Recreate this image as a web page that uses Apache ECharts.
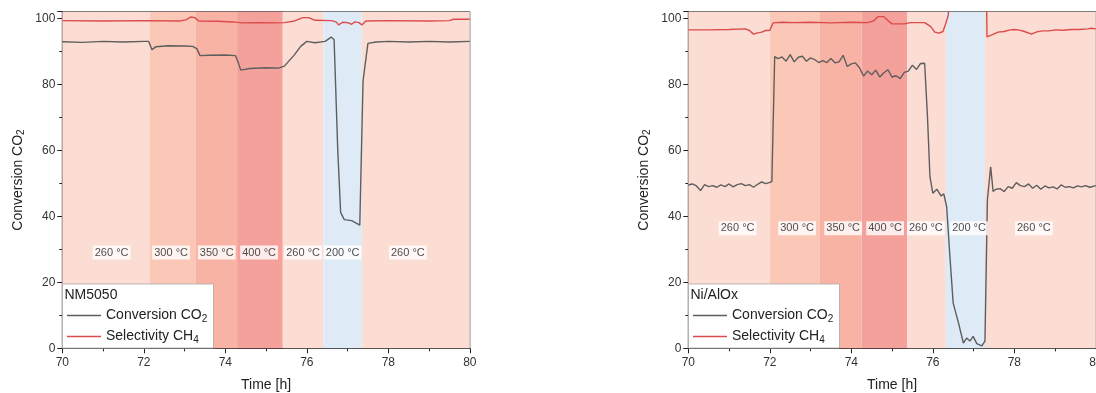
<!DOCTYPE html>
<html>
<head>
<meta charset="utf-8">
<script src="https://cdn.jsdelivr.net/npm/echarts@6/dist/echarts.min.js"></script>
<style>
  html, body { margin: 0; padding: 0; background: #fff; }
  #chart { width: 1096px; height: 393px; }
</style>
</head>
<body>
<div id="chart"></div>
<script>
// temperature program bands (h) and labels
const bandEdgesL = [70, 72.15, 73.28, 74.29, 75.41, 76.41, 77.35, 80];
const bandEdgesR = [70, 72.0, 73.23, 74.25, 75.37, 76.32, 77.28, 80];
const bandTemps = [260, 300, 350, 400, 260, 200, 260];
const labelTimeL = [71.21, 72.67, 73.79, 74.83, 75.91, 76.88, 78.48];
const labelTimeR = [71.21, 72.67, 73.80, 74.83, 75.83, 76.89, 78.48];
const labelLevelL = 29;
const labelLevelR = 36.4;

// NM5050
const timeConvL = [70.0, 70.5, 71.0, 71.5, 72.0, 72.12, 72.2, 72.3, 72.6, 73.0, 73.2, 73.3, 73.38, 73.6, 74.0, 74.25, 74.32, 74.38, 74.6, 75.0, 75.3, 75.45, 75.7, 75.85, 76.0, 76.2, 76.45, 76.6, 76.67, 76.76, 76.83, 76.92, 77.1, 77.2, 77.3, 77.34, 77.38, 77.5, 77.7, 78.0, 78.5, 79.0, 79.5, 80.0];
const convL = [92.9, 92.7, 93.0, 92.8, 93.0, 93.0, 90.5, 91.4, 91.7, 91.6, 91.5, 90.8, 88.7, 88.8, 88.9, 88.7, 86.5, 84.3, 84.8, 85.0, 84.9, 85.5, 89.0, 91.5, 93.0, 92.6, 93.0, 94.3, 93.5, 60.0, 41.2, 39.0, 38.7, 38.0, 37.3, 37.5, 81.0, 92.4, 92.8, 93.0, 92.8, 93.0, 92.8, 93.0];
const timeSelL = [70.0, 71.0, 72.0, 72.9, 73.05, 73.15, 73.25, 73.35, 73.8, 74.2, 74.4, 74.8, 75.2, 75.45, 75.7, 75.9, 76.05, 76.2, 76.6, 76.72, 76.78, 76.88, 77.0, 77.1, 77.18, 77.28, 77.35, 77.45, 78.0, 79.0, 79.5, 79.6, 80.0];
const selL = [99.3, 99.2, 99.3, 99.2, 99.6, 100.4, 100.2, 99.2, 99.1, 98.9, 98.6, 98.7, 98.6, 98.7, 99.2, 100.2, 100.2, 99.4, 99.3, 98.9, 98.0, 98.8, 98.7, 98.2, 98.9, 98.7, 98.0, 99.2, 99.3, 99.2, 99.3, 99.7, 99.7];

// Ni/AlOx
const timeConvR = [70.0, 70.1, 70.2, 70.3, 70.4, 70.5, 70.6, 70.7, 70.8, 70.9, 71.0, 71.1, 71.2, 71.3, 71.4, 71.5, 71.6, 71.7, 71.8, 71.9, 72.0, 72.05, 72.12, 72.2, 72.3, 72.4, 72.5, 72.6, 72.7, 72.8, 72.9, 73.0, 73.1, 73.2, 73.3, 73.4, 73.5, 73.6, 73.7, 73.8, 73.9, 74.0, 74.1, 74.2, 74.3, 74.4, 74.5, 74.6, 74.7, 74.8, 74.9, 75.0, 75.1, 75.2, 75.3, 75.4, 75.5, 75.6, 75.7, 75.8, 75.87, 75.93, 76.0, 76.1, 76.2, 76.27, 76.34, 76.42, 76.5, 76.63, 76.75, 76.83, 76.91, 76.99, 77.08, 77.2, 77.28, 77.34, 77.38, 77.42, 77.48, 77.55, 77.65, 77.75, 77.85, 77.95, 78.05, 78.15, 78.25, 78.35, 78.45, 78.55, 78.65, 78.75, 78.85, 78.95, 79.05, 79.15, 79.25, 79.35, 79.45, 79.55, 79.65, 79.75, 79.85, 80.0];
const convR = [49.5, 49.8, 49.2, 47.8, 49.6, 49.0, 49.3, 48.8, 49.5, 49.0, 49.8, 48.9, 49.6, 49.9, 49.3, 49.6, 48.8, 49.7, 50.4, 49.9, 50.3, 50.5, 88.4, 87.8, 88.3, 87.0, 89.0, 86.8, 88.2, 88.5, 87.0, 88.0, 87.5, 86.6, 87.2, 86.6, 87.8, 86.5, 86.8, 88.8, 85.4, 86.2, 86.5, 85.0, 82.5, 84.0, 82.9, 84.3, 82.2, 83.5, 84.4, 82.2, 82.6, 81.7, 83.6, 84.0, 85.8, 84.5, 86.3, 86.4, 70.0, 52.0, 47.0, 48.2, 46.2, 46.8, 42.9, 27.8, 13.7, 7.7, 1.6, 3.1, 2.2, 3.6, 1.4, 0.7, 2.2, 45.0, 50.0, 55.0, 47.5, 48.2, 48.4, 47.5, 49.0, 48.5, 50.2, 49.3, 49.0, 49.8, 48.5, 49.4, 48.2, 49.2, 48.6, 48.9, 48.3, 49.5, 48.8, 49.0, 48.6, 49.2, 48.9, 49.3, 48.8, 49.3];
const timeSelR = [70.0, 70.5, 71.0, 71.4, 71.5, 71.6, 71.7, 71.8, 71.9, 72.0, 72.08, 72.3, 72.6, 73.0, 73.5, 74.0, 74.4, 74.55, 74.65, 74.8, 74.9, 75.0, 75.3, 75.45, 75.8, 75.95, 76.05, 76.15, 76.25, 76.32, 76.38, 76.45, 77.31, 77.33, 77.45, 77.6, 77.75, 77.9, 78.0, 78.1, 78.25, 78.42, 78.55, 78.7, 78.85, 79.0, 79.2, 79.4, 79.6, 79.8, 79.9, 80.0];
const selR = [96.5, 96.5, 96.6, 96.8, 96.3, 95.2, 95.6, 95.8, 96.3, 96.4, 98.6, 98.8, 98.7, 98.8, 98.6, 98.8, 98.7, 99.2, 100.5, 100.5, 99.3, 98.3, 98.3, 98.7, 98.7, 97.5, 95.8, 95.5, 96.0, 98.5, 101.0, 115.0, 115.0, 94.4, 95.0, 95.8, 96.0, 96.5, 96.6, 96.5, 96.0, 95.2, 95.9, 96.2, 96.2, 96.5, 96.4, 96.6, 96.6, 96.8, 97.0, 96.8];

const bandColors = { 260: '#fcddd3', 300: '#fbc7b7', 350: '#f9b3a5', 400: '#f4a19b', 200: '#deebf6' };
const grayLine = '#5e5e5e';
const redLine = '#dc4b4b';
const FONT = 'Liberation Sans, Arial, sans-serif';

function pairs(t, v) {
  return t.map((x, i) => [x, v[i]]);
}

function bands(edges) {
  return bandTemps.map((temp, i) => [
    { xAxis: edges[i], itemStyle: { color: bandColors[temp] } },
    { xAxis: edges[i + 1] }
  ]);
}

function makeAxes(idx) {
  return {
    x: {
      type: 'value', gridIndex: idx, min: 70, max: 80, interval: 2,
      name: 'Time [h]', nameLocation: 'middle', nameGap: 30,
      nameTextStyle: { fontSize: 14, color: '#222', fontFamily: FONT },
      axisLine: { lineStyle: { color: '#222', width: 1 } },
      axisTick: { inside: false, length: 5, lineStyle: { color: '#222' } },
      minorTick: { show: true, splitNumber: 2, length: 3, lineStyle: { color: '#222' } },
      axisLabel: { fontSize: 12, color: '#333', margin: 8, fontFamily: FONT },
      splitLine: { show: false }
    },
    y: {
      type: 'value', gridIndex: idx, min: 0, max: 102, interval: 20,
      name: 'Conversion CO{s|2}', nameLocation: 'middle', nameGap: 36, nameRotate: 90,
      nameTextStyle: {
        fontSize: 14, color: '#222', fontFamily: FONT, lineHeight: 17,
        rich: { s: { fontSize: 10, lineHeight: 10, verticalAlign: 'bottom', color: '#222', fontFamily: FONT } }
      },
      axisLine: { show: true, lineStyle: { color: '#222', width: 1 } },
      axisTick: { inside: false, length: 5, lineStyle: { color: '#222' } },
      minorTick: { show: true, splitNumber: 2, length: 3, lineStyle: { color: '#222' } },
      axisLabel: {
        fontSize: 12, color: '#333', margin: 7, fontFamily: FONT,
        formatter: v => (v % 20 === 0 ? v : '')
      },
      splitLine: { show: false }
    }
  };
}

const axL = makeAxes(0);
const axR = makeAxes(1);

function tempLabels(times, level, idx) {
  return {
    type: 'scatter', xAxisIndex: idx, yAxisIndex: idx, z: 4,
    symbolSize: 1, itemStyle: { color: 'rgba(0,0,0,0)' },
    data: times.map((t, i) => [t, level, bandTemps[i]]),
    label: {
      show: true, position: 'inside', fontSize: 11, color: '#222', fontFamily: FONT,
      backgroundColor: '#fff', padding: [2, 2, 1, 2],
      formatter: p => p.value[2] + ' °C'
    },
    silent: true
  };
}

function legendFor(idx, left) {
  return {
    orient: 'vertical', left: left, top: 302, z: 6,
    data: ['Conversion CO2', 'Selectivity CH4'],
    icon: 'rect', itemWidth: 34, itemHeight: 1.5, itemGap: 4,
    textStyle: {
      fontSize: 14, color: '#222', fontFamily: FONT, lineHeight: 17,
      rich: { s: { fontSize: 10, lineHeight: 10, verticalAlign: 'bottom', color: '#222', fontFamily: FONT } }
    },
    formatter: n => (n === 'Conversion CO2' ? 'Conversion CO{s|2}' : 'Selectivity CH{s|4}'),
    selectedMode: false
  };
}

function legendBox(x, title) {
  return [
    { type: 'rect', z: 5, shape: { x: x, y: 284, width: 151, height: 64 },
      style: { fill: '#fff', stroke: '#aaa', lineWidth: 0.8 } },
    { type: 'text', z: 6, x: x + 2, y: 288,
      style: { text: title, fontSize: 14, fill: '#222', fontFamily: FONT } }
  ];
}

const chart = echarts.init(document.getElementById('chart'), null, { renderer: 'canvas' });

const option = {
  animation: false,
  backgroundColor: '#fff',
  grid: [
    { left: 62.3, top: 11.7, width: 407.5, height: 336.6, outerBoundsMode: 'none', show: true, borderColor: '#333', borderWidth: 1, backgroundColor: 'transparent' },
    { left: 688.3, top: 11.7, width: 407.5, height: 336.6, outerBoundsMode: 'none', show: true, borderColor: '#333', borderWidth: 1, backgroundColor: 'transparent' }
  ],
  xAxis: [axL.x, axR.x],
  yAxis: [axL.y, axR.y],
  legend: [legendFor(0, 62), legendFor(1, 688)],
  graphic: legendBox(62.5, 'NM5050').concat(legendBox(688.5, 'Ni/AlOx')),
  series: [
    {
      name: 'Conversion CO2', type: 'line', xAxisIndex: 0, yAxisIndex: 0,
      data: pairs(timeConvL, convL), symbol: 'none', clip: true,
      lineStyle: { color: grayLine, width: 1.4 }, itemStyle: { color: grayLine },
      markArea: { silent: true, data: bands(bandEdgesL) }
    },
    {
      name: 'Selectivity CH4', type: 'line', xAxisIndex: 0, yAxisIndex: 0,
      data: pairs(timeSelL, selL), symbol: 'none', clip: true,
      lineStyle: { color: redLine, width: 1.4 }, itemStyle: { color: redLine }
    },
    tempLabels(labelTimeL, labelLevelL, 0),
    {
      name: 'Conversion CO2', type: 'line', xAxisIndex: 1, yAxisIndex: 1,
      data: pairs(timeConvR, convR), symbol: 'none', clip: true,
      lineStyle: { color: grayLine, width: 1.4 }, itemStyle: { color: grayLine },
      markArea: { silent: true, data: bands(bandEdgesR) }
    },
    {
      name: 'Selectivity CH4', type: 'line', xAxisIndex: 1, yAxisIndex: 1,
      data: pairs(timeSelR, selR), symbol: 'none', clip: true,
      lineStyle: { color: redLine, width: 1.4 }, itemStyle: { color: redLine }
    },
    tempLabels(labelTimeR, labelLevelR, 1)
  ]
};

chart.setOption(option);
</script>
</body>
</html>
